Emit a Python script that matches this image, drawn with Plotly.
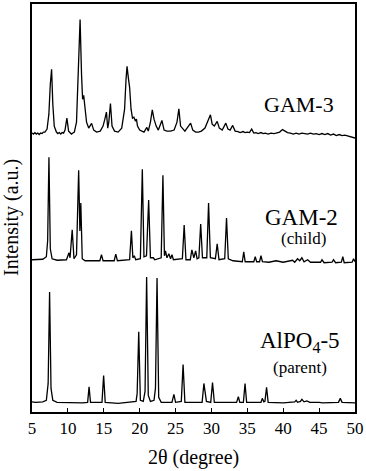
import plotly.graph_objects as go

# ---------------- data ----------------
# 2-theta positions (degree) and intensities (a.u., relative to each pattern's own baseline)
alpo_x = [5.0, 5.5, 6.5, 7.0, 7.25, 7.45, 7.65, 7.9, 8.5, 10.0, 12.0,
          12.75, 12.95, 13.15, 14.75, 14.98, 15.2, 17.0, 19.5, 19.65, 19.87, 20.1,
          20.5, 20.75, 20.97, 21.2, 21.5, 22.0, 22.2, 22.42, 22.65, 23.0,
          24.5, 24.77, 25.0, 25.8, 26.05, 26.3, 28.7, 28.95, 29.3,
          29.9, 30.15, 30.4, 33.5, 33.75, 33.95, 34.45, 34.68, 34.9,
          36.9, 37.08, 37.3, 37.45, 37.68, 37.9, 40.0, 41.6, 41.8, 42.0,
          42.4, 42.6, 42.9, 43.3, 43.7, 45.0, 45.5, 47.7, 47.95, 48.2, 50.0]
alpo_y = [1.5, 1.0, 1.5, 3.0, 20.0, 112.0, 15.0, 3.0, 1.0, 0.5, 0.5,
          1.0, 16.5, 1.0, 1.0, 28.0, 1.0, 0.0, 2.0, 10.0, 72.0, 3.0,
          2.0, 12.0, 127.0, 8.0, 2.0, 3.0, 15.0, 126.0, 6.0, 1.0,
          1.0, 9.0, 1.0, 2.0, 39.0, 1.0, 1.0, 20.0, 2.0,
          1.0, 21.0, 1.0, 1.0, 6.6, 1.0, 1.0, 20.0, 1.0,
          1.0, 5.0, 1.5, 2.0, 16.0, 1.0, 0.5, 1.5, 3.0, 1.0,
          2.0, 4.0, 1.5, 2.5, 1.0, 1.0, 0.5, 1.0, 5.0, 1.0, 0.5]

gam2_x = [5.0, 6.5, 7.0, 7.18, 7.36, 7.55, 7.8, 8.5, 9.8, 10.15, 10.3, 10.6, 10.85,
          11.2, 11.5, 11.67, 11.8, 12.0, 12.4, 14.45, 14.68, 14.9, 16.45, 16.67, 16.9,
          18.6, 18.85, 19.05, 19.25, 19.45, 20.1, 20.37, 20.6, 20.95, 21.25, 21.5,
          21.9, 22.1, 23.0, 23.24, 23.45, 23.6, 23.8, 24.07, 24.3, 24.5, 24.7,
          25.95, 26.2, 26.45, 27.05, 27.27, 27.55, 27.8, 28.0, 28.25, 28.5, 28.75,
          29.35, 29.6, 29.85, 30.55, 30.8, 31.05, 31.85, 32.1, 32.35, 33.0,
          34.3, 34.5, 34.7, 35.9, 36.1, 36.3, 36.7, 36.9, 37.1, 38.0, 39.0, 40.0,
          41.3, 41.6, 42.0, 42.3, 42.6, 42.9, 43.4, 43.8, 45.2, 45.4, 45.7,
          46.8, 47.0, 47.3, 48.1, 48.3, 48.5, 49.6, 49.8, 50.0]
gam2_y = [1.0, 1.5, 4.0, 20.0, 104.0, 12.0, 2.0, 0.5, 1.0, 8.0, 3.0, 31.0, 2.0,
          6.0, 91.0, 30.0, 58.0, 2.0, 0.0, 0.0, 6.0, 0.0, 0.0, 6.7, 0.0,
          1.0, 30.0, 3.0, 5.0, 1.0, 2.0, 92.0, 4.0, 5.0, 61.0, 3.0,
          3.0, 1.0, 3.0, 86.0, 5.0, 10.0, 3.0, 7.0, 2.0, 6.0, 1.0,
          2.0, 36.0, 1.0, 1.0, 11.0, 3.0, 10.0, 2.0, 3.0, 37.0, 3.0,
          3.0, 58.0, 3.0, 2.0, 17.0, 1.0, 2.0, 43.0, 2.0, 0.0,
          -1.0, 9.0, -1.0, -1.0, 4.0, -1.0, -1.0, 5.0, -1.0, -1.5, 0.0, -1.5,
          0.5, -1.5, 2.0, 0.0, 3.0, -1.0, 1.0, -1.5, -1.5, 1.0, -2.0,
          -1.5, 1.0, -2.0, -1.5, 4.0, -2.0, -1.5, 2.0, -1.0]

gam3_x = [5.0, 5.2, 5.4, 5.6, 5.8, 6.0, 6.2, 6.4, 6.6, 6.8, 7.1, 7.35, 7.55, 7.73,
          7.9, 8.1, 8.4, 8.6, 8.8, 9.0, 9.2, 9.4, 9.6, 9.86, 10.1, 10.3, 10.5, 10.7,
          10.9, 11.2, 11.45, 11.7, 11.9, 12.05, 12.2,
          12.35, 12.6, 12.9, 13.1, 13.3, 13.6, 14.0, 14.5, 14.9, 15.15, 15.37, 15.55,
          15.7, 15.93, 16.15, 16.5, 17.0, 17.5, 17.9, 18.1, 18.24, 18.45, 18.6, 18.8,
          19.0, 19.2, 19.4, 19.55, 19.7, 20.0, 20.3, 20.6, 21.0, 21.2, 21.5, 21.76,
          22.0, 22.3, 22.6, 23.1, 23.4, 23.8, 24.3, 24.8, 25.2, 25.46, 25.7, 26.0,
          26.3, 26.7, 27.1, 27.4, 27.8, 28.2, 28.6, 29.1, 29.5, 29.86, 30.1, 30.4,
          30.8, 31.1, 31.5, 32.0, 32.3, 32.6, 32.96, 33.3, 33.7, 34.0, 34.4, 34.7,
          35.0, 35.3, 35.6, 35.9, 36.2, 36.5, 36.9, 37.2, 37.5, 37.9, 38.3, 38.7,
          39.0, 39.5, 39.9, 40.3, 40.6, 41.0, 41.4, 41.8, 42.2, 42.6, 43.0, 43.4,
          43.8, 44.2, 44.6, 45.0, 45.4, 45.8, 46.2, 46.6, 47.0, 47.4, 47.8, 48.2,
          48.6, 49.0, 49.3, 49.6, 50.0]
gam3_y = [1.0, 0.0, 1.5, 0.0, 1.0, -0.5, 1.0, 0.5, 2.0, 2.0, 5.0, 20.0, 50.0, 65.0,
          30.0, 8.0, 2.0, 0.5, 1.5, 0.0, 1.5, 1.0, 4.0, 16.0, 3.0, 1.0, 0.0, 1.0,
          2.0, 12.0, 60.0, 115.0, 60.0, 35.0, 39.0,
          28.0, 12.0, 6.0, 8.0, 10.7, 4.0, 2.0, 3.0, 8.0, 15.0, 22.0, 6.0,
          12.0, 30.7, 8.0, 3.0, 2.0, 6.0, 25.0, 55.0, 68.0, 55.0, 47.0, 25.0,
          16.0, 17.0, 13.0, 15.0, 8.0, 4.0, 3.0, 2.0, 6.7, 3.0, 12.0, 24.4,
          15.0, 8.0, 4.0, 13.7, 4.0, 3.0, 3.0, 4.0, 12.0, 25.4, 8.0, 6.0,
          3.0, 7.0, 11.0, 4.0, 2.0, 2.0, 3.0, 6.0, 14.0, 19.4, 10.0, 8.0,
          12.7, 6.0, 4.0, 11.0, 5.0, 4.0, 8.7, 3.0, 2.5, 1.5, 2.5, 1.5,
          2.0, 1.5, 5.0, 1.0, 1.5, 0.5, 1.5, 0.5, 1.0, 0.0, 1.0, 0.5,
          1.0, 2.0, 4.5, 2.5, 1.5, 1.0, 0.0, 1.0, 0.0, 1.0, 0.5, 0.0,
          1.0, 0.0, 0.5, -0.5, 0.5, -0.5, 0.5, -1.0, 0.0, -1.5, -0.5, -1.5,
          -1.0, -2.0, -2.5, -3.0, -4.0]

pattern_names = ["AlPO<sub>4</sub>-5", "GAM-2", "GAM-3"]
pattern_notes = ["(parent)", "(child)", ""]
x_ticks = [5, 10, 15, 20, 25, 30, 35, 40, 45, 50]

# vertical stacking offsets of the three patterns
offsets = [8.7, 152.0, 279.3]

FONT = "Liberation Serif"

fig = go.Figure()
for xs, ys, off in [(alpo_x, alpo_y, offsets[0]),
                    (gam2_x, gam2_y, offsets[1]),
                    (gam3_x, gam3_y, offsets[2])]:
    fig.add_trace(go.Scatter(x=xs, y=[v + off for v in ys], mode="lines",
                             line=dict(color="black", width=1.3),
                             showlegend=False, hoverinfo="skip"))

# pattern labels
label_pos = [(42.4, 70.0), (42.6, 195.5), (42.2, 309.5)]
label_size = [23, 23, 22]
note_pos = [(42.4, 44.5), (42.8, 174.0), None]
for name, note, lp, ls, npos in zip(pattern_names, pattern_notes, label_pos,
                                    label_size, note_pos):
    fig.add_annotation(x=lp[0], y=lp[1], xref="x", yref="y", text=name,
                       showarrow=False, xanchor="center", yanchor="middle",
                       font=dict(family=FONT, size=ls, color="black"))
    if note:
        fig.add_annotation(x=npos[0], y=npos[1], xref="x", yref="y", text=note,
                           showarrow=False, xanchor="center", yanchor="middle",
                           font=dict(family=FONT, size=17, color="black"))

# axis titles
fig.add_annotation(x=-0.062, y=0.478, xref="paper", yref="paper",
                   text="Intensity (a.u.)", textangle=-90, showarrow=False,
                   xanchor="center", yanchor="middle",
                   font=dict(family=FONT, size=20, color="black"))
fig.add_annotation(x=0.5, y=-0.112, xref="paper", yref="paper",
                   text="2θ (degree)", showarrow=False,
                   xanchor="center", yanchor="middle",
                   font=dict(family=FONT, size=20, color="black"))

fig.update_layout(
    width=366, height=471,
    margin=dict(l=32, r=10, t=2, b=59),
    paper_bgcolor="white", plot_bgcolor="white",
    font=dict(family=FONT, color="black"),
)
fig.update_xaxes(range=[5, 50], tickvals=x_ticks, ticktext=[str(t) for t in x_ticks],
                 ticks="inside", ticklen=4, tickwidth=1.3, tickcolor="black",
                 showline=True, mirror=True, linecolor="black", linewidth=1.5,
                 showgrid=False, zeroline=False,
                 tickfont=dict(family=FONT, size=17, color="black"))
fig.update_yaxes(range=[0, 410], showticklabels=False, ticks="",
                 showline=True, mirror=True, linecolor="black", linewidth=1.5,
                 showgrid=False, zeroline=False)

fig.write_html("out.html", config={"displayModeBar": False},
               post_script="document.body.style.margin='0';document.body.style.padding='0';")
